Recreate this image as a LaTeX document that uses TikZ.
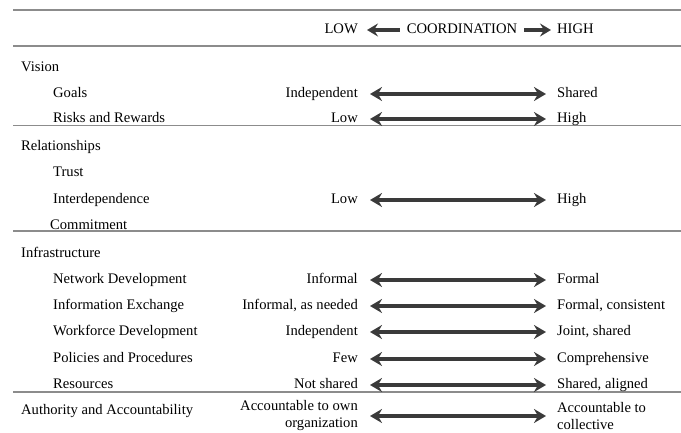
\documentclass[tikz,border=0pt]{standalone}
\usepackage{fontspec}
\setmainfont{Liberation Serif}
\usetikzlibrary{arrows.meta}

\definecolor{rulegray}{HTML}{8C8C8C}
\definecolor{arrowgray}{HTML}{3A3A3A}

\tikzset{
	every node/.style={font=\fontsize{14.6}{17}\selectfont, text height=1.55ex, text depth=0pt, inner ysep=0pt},
	lowlbl/.style={anchor=east, inner xsep=12pt},
	highlbl/.style={anchor=west, inner xsep=11pt},
	rowlbl/.style={anchor=west, inner xsep=0pt},
	biarrow/.style={arrowgray, line width=3.2pt, {Stealth[length=12pt,width=14pt,inset=4pt]}-{Stealth[length=12pt,width=14pt,inset=4pt]}},
	hdrarrow/.style={arrowgray, line width=3.2pt, -{Stealth[length=11pt,width=13pt,inset=4pt]}},
	hrule/.style={rulegray, line width=1.8pt}
}

\begin{document}
\begin{tikzpicture}[x=1pt, y=-1pt]
			\useasboundingbox (0,0) rectangle (681,433);

			% Rules
			\foreach \ry in {10,46,125.5,231,392}
				\draw[hrule] (13,\ry) -- (681,\ry);

			% Header
			\node[inner xsep=7pt] (coord) at (462,30) {COORDINATION};
			\node[anchor=east, inner xsep=9pt] (hdrlow) at (367,30) {LOW};
			\node[anchor=west, inner xsep=6pt] (hdrhigh) at (551,30) {HIGH};
			\draw[hdrarrow] (coord) -- (hdrlow);
			\draw[hdrarrow] (coord) -- (hdrhigh);

			% Row labels
			\foreach \lx/\ly/\txt [count=\j] in {21/68/Vision, 53/94/Goals, 53/119/Risks and Rewards,
				21/147/Relationships, 53/173/Trust, 53/200/Interdependence, 50/226/Commitment,
				21/254/Infrastructure, 53/280/Network Development, 53/306/Information Exchange,
				53/332/Workforce Development, 53/359/Policies and Procedures, 53/385/Resources,
				21/411/Authority and Accountability}
				\node[rowlbl] (lbl\j) at (\lx,\ly) {\txt};

			% Low to high scales
			\foreach \sy/\lo/\hi [count=\i] in {94/Independent/Shared, 119/Low/High, 200/Low/High,
				280/Informal/Formal, 306/{Informal, as needed}/{Formal, consistent},
				332/Independent/{Joint, shared}, 359/Few/Comprehensive, 385/Not shared/{Shared, aligned}}
			{
				\node[lowlbl] (lo\i) at (370,\sy) {\lo};
				\node[highlbl] (hi\i) at (546,\sy) {\hi};
				\draw[biarrow] (lo\i) -- (hi\i);
			}

			% Accountability
			\node[lowlbl, align=right, text height=, text depth=] (loacc) at (370,416) {Accountable to own\\organization};
			\node[highlbl, align=left, text height=, text depth=] (hiacc) at (546,416) {Accountable to\\collective};
			\draw[biarrow] (loacc) -- (hiacc);
		\end{tikzpicture}
\end{document}
